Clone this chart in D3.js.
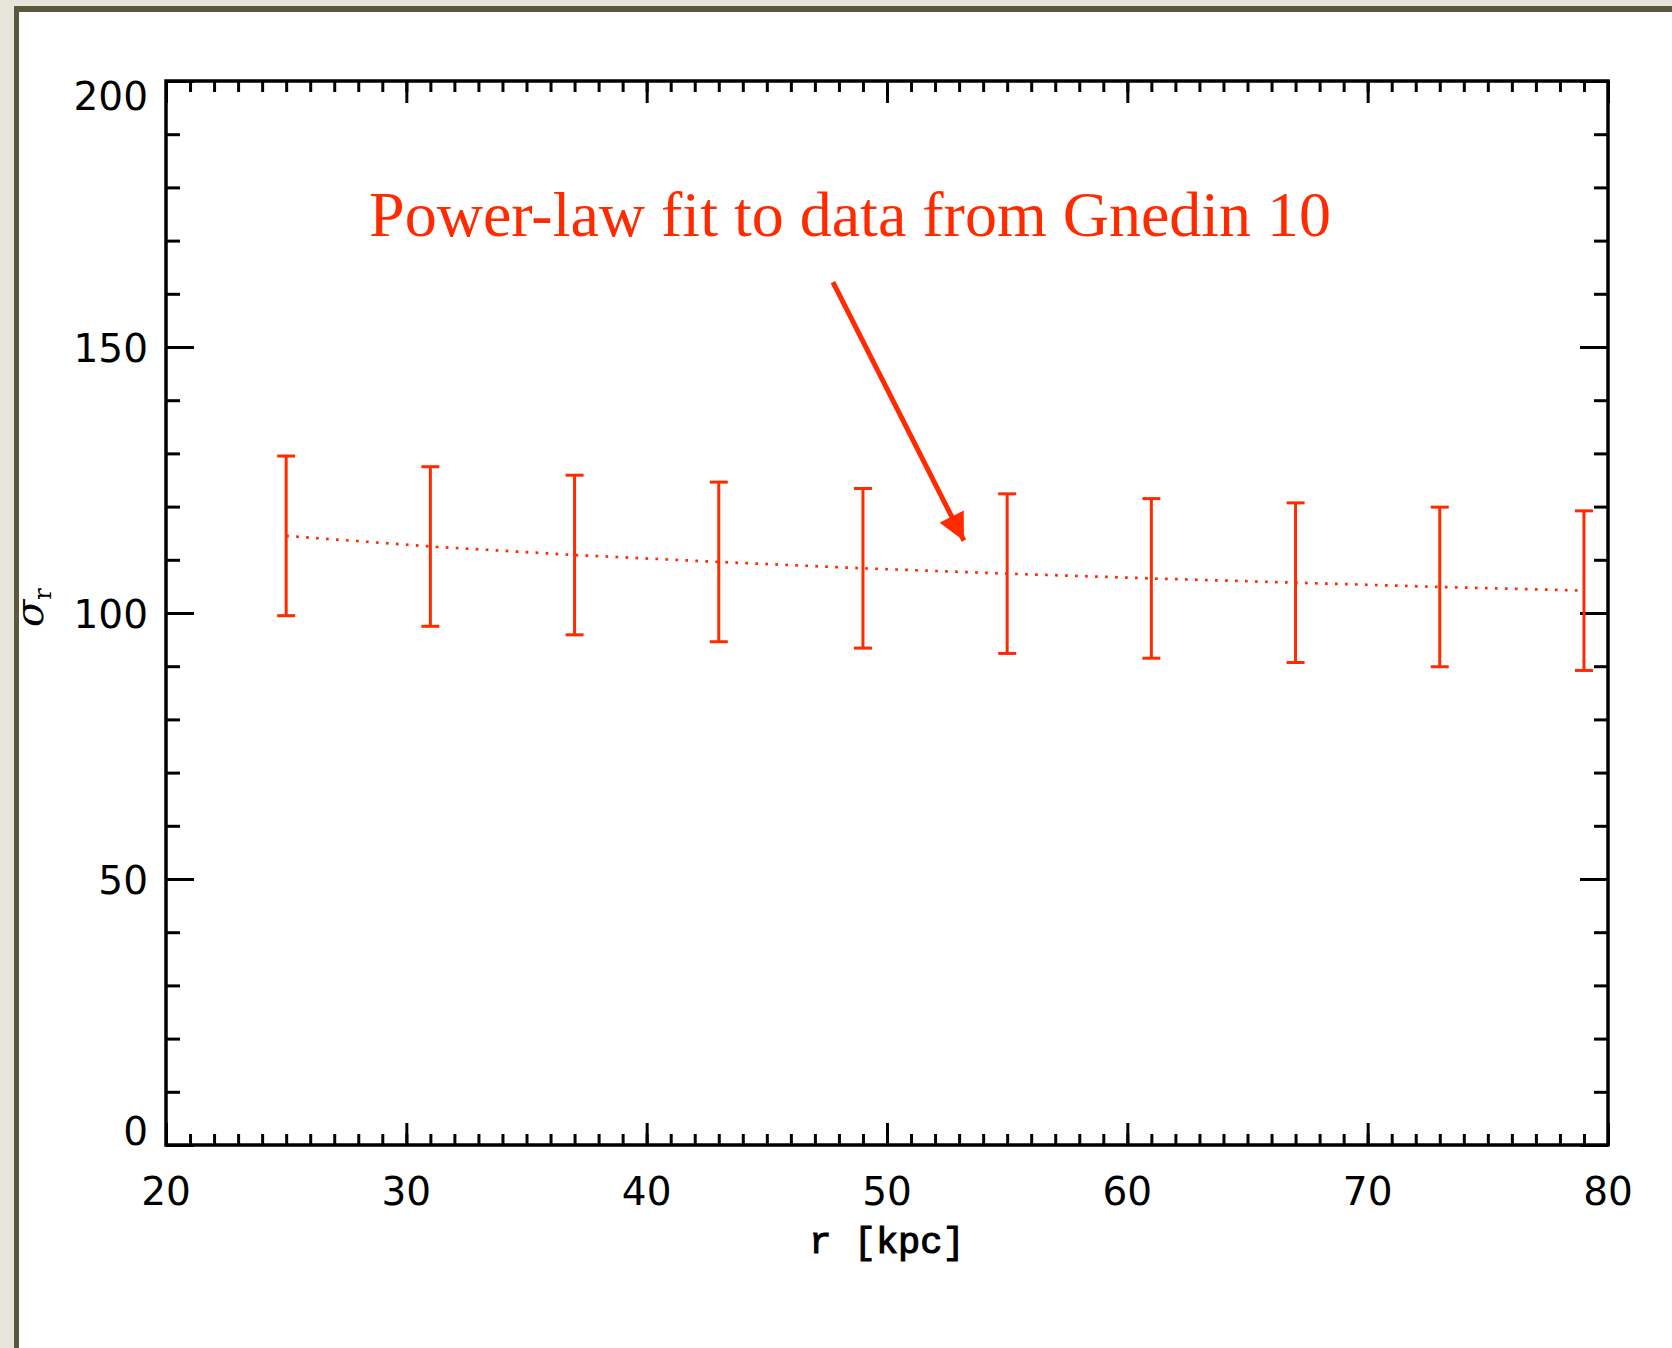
<!DOCTYPE html>
<html>
<head>
<meta charset="utf-8">
<script src="https://cdn.jsdelivr.net/npm/d3@7"></script>
<style>
  html, body { margin: 0; padding: 0; background: #e7e5da; }
  #chart { width: 1672px; height: 1348px; }
</style>
</head>
<body>
<div id="chart"></div>
<script>
// values
const radii = [25, 31, 37, 43, 49, 55, 61, 67, 73, 79];
const sigmaR = [114.5, 112.5, 110.9, 109.6, 108.4, 107.4, 106.5, 105.7, 104.9, 104.2];
const sigmaErr = [15, 15, 15, 15, 15, 15, 15, 15, 15, 15];
const xTicks = [20, 30, 40, 50, 60, 70, 80];
const yTicks = [0, 50, 100, 150, 200];
const noteText = 'Power-law fit to data from Gnedin 10';
const noteAt = [28.45, 170.9];
const arrowFrom = [47.75, 162.2];
const arrowTo = [53.2, 113.6];

const W = 1672, H = 1348;
const margins = { top: 81, right: 64, bottom: 203, left: 166 };
const width = W - margins.left - margins.right;
const height = H - margins.top - margins.bottom;
const red = '#ff2a00';

const svg = d3.select('#chart')
  .append('svg')
  .attr('width', W)
  .attr('height', H);

// slide frame
svg.append('rect')
  .attr('x', 14).attr('y', 6)
  .attr('width', W).attr('height', H)
  .attr('fill', '#5b5840');
svg.append('rect')
  .attr('x', 19).attr('y', 12)
  .attr('width', W).attr('height', H)
  .attr('fill', '#ffffff');

const g = svg.append('g')
  .attr('transform', `translate(${margins.left},${margins.top})`);

const x = d3.scaleLinear().domain([20, 80]).range([0, width]);
const y = d3.scaleLinear().domain([0, 200]).range([height, 0]);

const xMinor = d3.range(20, 81, 1);
const yMinor = d3.range(0, 201, 10);

// ticks, IDL style: on all four sides, pointing inward
function tickAxis(axisFn, scale, values, len, tx, ty) {
  g.append('g')
    .attr('transform', `translate(${tx},${ty})`)
    .call(axisFn(scale).tickValues(values).tickSize(len).tickFormat(''))
    .call(a => a.select('.domain').remove())
    .call(a => a.selectAll('.tick line').attr('stroke', '#000').attr('stroke-width', 3));
}
tickAxis(d3.axisTop, x, xMinor, 11, 0, height);
tickAxis(d3.axisTop, x, xTicks, 22, 0, height);
tickAxis(d3.axisBottom, x, xMinor, 11, 0, 0);
tickAxis(d3.axisBottom, x, xTicks, 22, 0, 0);
tickAxis(d3.axisRight, y, yMinor, 14, 0, 0);
tickAxis(d3.axisRight, y, yTicks, 28, 0, 0);
tickAxis(d3.axisLeft, y, yMinor, 14, width, 0);
tickAxis(d3.axisLeft, y, yTicks, 28, width, 0);

g.append('rect')
  .attr('width', width).attr('height', height)
  .attr('fill', 'none')
  .attr('stroke', '#000')
  .attr('stroke-width', 3.5);

// tick labels
const labelFont = '"DejaVu Sans", sans-serif';
g.selectAll('.xlab')
  .data(xTicks)
  .enter()
  .append('text')
  .attr('x', d => x(d))
  .attr('y', height + 60)
  .attr('text-anchor', 'middle')
  .style('font-family', labelFont)
  .style('font-size', '39px')
  .text(d => d);

const capH = 29;
g.selectAll('.ylab')
  .data(yTicks)
  .enter()
  .append('text')
  .attr('x', -18)
  .attr('y', d => Math.min(Math.max(y(d), capH / 2), height - capH / 2) + capH / 2)
  .attr('text-anchor', 'end')
  .style('font-family', labelFont)
  .style('font-size', '39px')
  .text(d => d);

// axis titles
g.append('text')
  .attr('x', width / 2)
  .attr('y', height + 108)
  .attr('text-anchor', 'middle')
  .style('font-family', '"Liberation Mono", monospace')
  .style('font-size', '37px')
  .style('stroke', '#000')
  .style('stroke-width', 1.1)
  .text('r [kpc]');

const yt = g.append('text')
  .attr('transform', `translate(${43 - margins.left},${height / 2 + 14}) rotate(-90)`)
  .style('font-family', '"DejaVu Serif", serif')
  .style('font-style', 'italic')
  .style('font-size', '40px');
yt.append('tspan').text('σ');
yt.append('tspan')
  .attr('dy', 8)
  .style('font-style', 'normal')
  .style('font-size', '24px')
  .text('r');

// fit line (dotted)
const line = d3.line()
  .x(d => x(d[0]))
  .y(d => y(d[1]));
g.append('path')
  .datum(radii.map((r, i) => [r, sigmaR[i]]))
  .attr('d', line)
  .attr('fill', 'none')
  .attr('stroke', red)
  .attr('stroke-width', 2.7)
  .attr('stroke-dasharray', '2.7 7.3');

// error bars
const bars = g.selectAll('.bar')
  .data(radii.map((r, i) => ({ r, v: sigmaR[i], e: sigmaErr[i] })))
  .enter()
  .append('g')
  .attr('stroke', red)
  .attr('stroke-width', 3);
bars.append('line')
  .attr('x1', d => x(d.r)).attr('x2', d => x(d.r))
  .attr('y1', d => y(d.v - d.e)).attr('y2', d => y(d.v + d.e));
bars.append('line')
  .attr('x1', d => x(d.r) - 9).attr('x2', d => x(d.r) + 9)
  .attr('y1', d => y(d.v + d.e)).attr('y2', d => y(d.v + d.e));
bars.append('line')
  .attr('x1', d => x(d.r) - 9).attr('x2', d => x(d.r) + 9)
  .attr('y1', d => y(d.v - d.e)).attr('y2', d => y(d.v - d.e));

// annotation
g.append('text')
  .attr('x', x(noteAt[0]))
  .attr('y', y(noteAt[1]))
  .style('font-family', '"Liberation Serif", "Times New Roman", serif')
  .style('font-size', '64px')
  .style('fill', red)
  .text(noteText);

svg.append('defs').append('marker')
  .attr('id', 'head')
  .attr('viewBox', '0 0 10 10')
  .attr('refX', 10).attr('refY', 5)
  .attr('markerWidth', 5.6).attr('markerHeight', 5.4)
  .attr('markerUnits', 'strokeWidth')
  .attr('orient', 'auto')
  .append('path')
  .attr('d', 'M0,0 L10,5 L0,10 Z')
  .attr('fill', red);

g.append('line')
  .attr('x1', x(arrowFrom[0])).attr('y1', y(arrowFrom[1]))
  .attr('x2', x(arrowTo[0])).attr('y2', y(arrowTo[1]))
  .attr('stroke', red)
  .attr('stroke-width', 5)
  .attr('marker-end', 'url(#head)');
</script>
</body>
</html>
